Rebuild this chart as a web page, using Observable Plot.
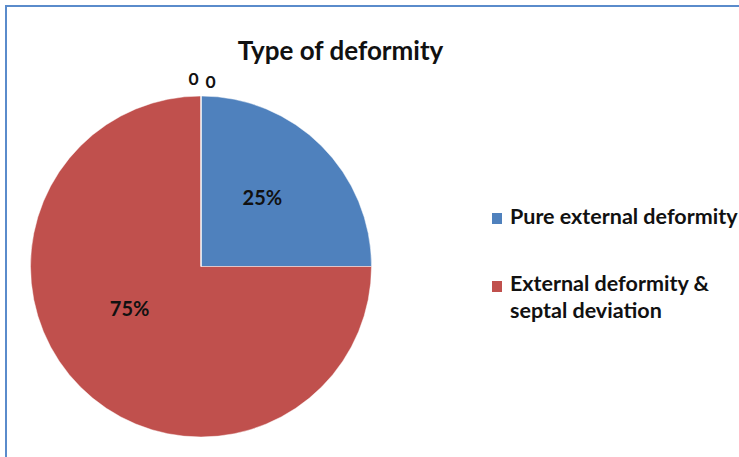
<!DOCTYPE html>
<html>
<head>
<meta charset="utf-8">
<script src="https://cdn.jsdelivr.net/npm/d3@7"></script>
<script src="https://cdn.jsdelivr.net/npm/@observablehq/plot@0.6"></script>
<style>
  body { margin: 0; background: #fff; }
  #chart { position: relative; width: 739px; height: 457px; overflow: hidden; font-family: Lato, "Open Sans", sans-serif; }
  #chart svg { position: absolute; left: 0; top: 0; }
  #frame { position: absolute; left: 5px; top: 5px; width: 900px; height: 700px;
           border-left: 2px solid #5a8bcb; border-top: 2px solid #5a8bcb; }
  .key { position: absolute; left: 492px; width: 10px; height: 11px; }
  .entry { position: absolute; left: 510px; font-weight: bold; font-size: 21.5px; line-height: 26.5px; color: #111; }
</style>
</head>
<body>
<div id="chart"><div id="frame"></div></div>
<script>
// Type of deformity — share of cases (percent)
const categories = ["Pure external deformity", "External deformity & septal deviation", "Other type A", "Other type B"];
const shares = [25, 75, 0, 0];
const labels = ["25%", "75%", "0", "0"];
const colors = ["#4f81bd", "#c0504d", "#9bbb59", "#8064a2"];
const title = "Type of deformity";

const rows = categories.map((category, i) => ({category, value: shares[i], label: labels[i]}));
const arcs = d3.pie().sort(null).value(d => d.value)(rows);

// point on the unit circle (y up), angle measured clockwise from 12 o'clock
const mid = a => (a.startAngle + a.endAngle) / 2;
const px = (a, k) => k * Math.sin(mid(a));
const py = (a, k) => k * Math.cos(mid(a));

// pie slices drawn with d3.arc, centred and sized through Plot's x/y scales
function pieSlices(data, options) {
  return Plot.dot(data, {
    ...options,
    x: () => 0,
    y: () => 0,
    render(index, scales, values) {
      const cx = scales.x(0), cy = scales.y(0), r = scales.x(1) - cx;
      const arc = d3.arc().innerRadius(0).outerRadius(r);
      const g = d3.create("svg:g").attr("transform", `translate(${cx},${cy})`);
      g.selectAll("path")
        .data(index)
        .join("path")
        .attr("d", i => arc(data[i]))
        .attr("fill", i => values.fill[i])
        .attr("stroke", "#ffffff")
        .attr("stroke-opacity", 0.45)
        .attr("stroke-width", 1);
      return g.node();
    }
  });
}

const labelOpts = {fontWeight: "bold", fill: "#111", text: d => d.data.label};

const plot = Plot.plot({
  width: 739,
  height: 457,
  margin: 0,
  style: {fontFamily: "Lato, 'Open Sans', sans-serif", background: "transparent"},
  x: {domain: [-1, 1], range: [30.5, 371.5], axis: null},
  y: {domain: [-1, 1], range: [437, 96], axis: null},
  color: {domain: categories, range: colors},
  marks: [
    pieSlices(arcs, {fill: d => d.data.category}),
    // value labels inside the slices
    Plot.text(arcs, {...labelOpts, filter: d => d.index === 0, x: d => px(d, 0.53), y: d => py(d, 0.53), fontSize: 20, dx: -3, dy: -5}),
    Plot.text(arcs, {...labelOpts, filter: d => d.index === 1, x: d => px(d, 0.53), y: d => py(d, 0.53), fontSize: 20, dx: -8, dy: -21}),
    // zero-valued slices, labelled just outside the rim
    Plot.text(arcs, {...labelOpts, filter: d => d.index === 2, x: d => px(d, 1.1), y: d => py(d, 1.1), fontSize: 17.5, dx: -8, dy: 0}),
    Plot.text(arcs, {...labelOpts, filter: d => d.index === 3, x: d => px(d, 1.1), y: d => py(d, 1.1), fontSize: 17.5, dx: 9, dy: 3}),
    // chart title
    Plot.text([title], {frameAnchor: "top-left", textAnchor: "middle", dx: 340, dy: 41, text: d => d, fontSize: 26, fontWeight: "bold", fill: "#111"})
  ]
});

const chart = document.getElementById("chart");
chart.insertBefore(plot, chart.firstChild);

// legend: non-zero categories only
const keyTops = [213, 281];
const entryTops = [203, 270];
const shown = rows.filter(d => d.value > 0);
shown.forEach((d, i) => {
  const key = document.createElement("div");
  key.className = "key";
  key.style.top = keyTops[i] + "px";
  key.style.background = colors[categories.indexOf(d.category)];
  chart.appendChild(key);
  const entry = document.createElement("div");
  entry.className = "entry";
  entry.style.top = entryTops[i] + "px";
  entry.style.width = i === 0 ? "400px" : "215px";
  entry.style.whiteSpace = i === 0 ? "nowrap" : "normal";
  entry.textContent = d.category;
  chart.appendChild(entry);
});
</script>
</body>
</html>
